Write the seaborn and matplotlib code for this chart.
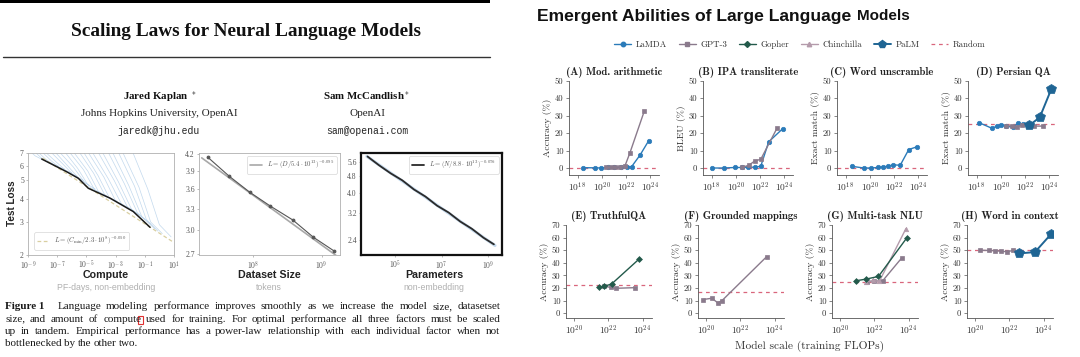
import numpy as np
import pandas as pd
import matplotlib
matplotlib.use("Agg")
import matplotlib.pyplot as plt
import seaborn as sns
from matplotlib.ticker import FixedLocator, FuncFormatter, NullLocator
from matplotlib.lines import Line2D
from matplotlib.patches import Rectangle
from matplotlib.font_manager import FontProperties

# ---------------- data: left (Scaling Laws) ----------------
compute_frontier_exp = [-8.06, -6.35, -5.55, -4.87, -3.38, -1.79, -0.64]
compute_frontier_loss = [6.5, 5.56, 5.13, 4.54, 4.02, 3.41, 2.81]
compute_fit_exp = [-8.0, 1.0]
compute_fit_loss = [6.57, 2.33]
curve_exp = [
    [-9.0, -8.5, -8.0, -7.3], [-8.7, -8.1, -7.6, -6.9], [-8.5, -7.8, -7.2, -6.5],
    [-8.2, -7.4, -6.7, -6.0], [-8.0, -7.0, -6.3, -5.6], [-7.6, -6.6, -5.9, -5.2],
    [-7.3, -6.3, -5.5, -4.8], [-7.0, -5.9, -5.1, -4.4], [-6.6, -5.6, -4.8, -4.0],
    [-6.3, -5.2, -4.4, -3.6], [-6.0, -4.9, -4.1, -3.3], [-5.6, -4.5, -3.7, -2.9],
    [-5.3, -4.2, -3.4, -2.6], [-5.0, -3.8, -3.0, -2.2], [-4.7, -3.5, -2.6, -1.8],
    [-4.3, -3.1, -2.2, -1.4], [-4.0, -2.8, -1.9, -1.0], [-3.6, -2.4, -1.5, -0.6],
    [-3.3, -2.1, -1.2, -0.3], [-2.9, -1.7, -0.9, -0.1], [-2.6, -1.4, -0.6, 0.2],
    [-1.9, -0.8, 0.0, 0.8],
]
curve_loss = [
    [7.3, 6.75, 6.45, 6.15], [7.3, 6.6, 6.2, 5.95], [7.3, 6.5, 6.0, 5.75],
    [7.3, 6.35, 5.75, 5.5], [7.3, 6.2, 5.55, 5.25], [7.3, 6.1, 5.35, 5.0],
    [7.3, 6.0, 5.1, 4.7], [7.3, 5.9, 4.85, 4.5], [7.3, 5.8, 4.6, 4.3],
    [7.3, 5.7, 4.4, 4.15], [7.3, 5.6, 4.25, 4.0], [7.3, 5.45, 4.12, 3.88],
    [7.3, 5.3, 4.0, 3.75], [7.3, 5.2, 3.88, 3.6], [7.3, 5.1, 3.75, 3.45],
    [7.3, 5.0, 3.62, 3.28], [7.3, 4.9, 3.5, 3.1], [7.3, 4.8, 3.35, 2.92],
    [7.3, 4.7, 3.2, 2.75], [7.3, 4.65, 3.1, 2.68], [7.3, 4.6, 3.0, 2.6],
    [7.3, 4.5, 2.9, 2.5],
]
data_exp = [7.34, 7.65, 7.95, 8.25, 8.58, 8.88, 9.18]
data_loss = [4.14, 3.81, 3.55, 3.34, 3.14, 2.91, 2.74]
data_fit_exp = [7.25, 9.22]
data_fit_loss = [4.13, 2.68]
param_exp = [3.8, 4.3, 4.8, 5.3, 5.8, 6.3, 6.8, 7.3, 7.8, 8.3, 8.8, 9.25]
param_loss = [5.92, 5.38, 4.93, 4.57, 4.14, 3.83, 3.47, 3.22, 2.92, 2.70, 2.45, 2.28]
param_fit_exp = [3.77, 9.3]
param_fit_loss = [5.93, 2.25]

compute_yticks = [2, 3, 4, 5, 6, 7]
compute_xticks = [-9, -7, -5, -3, -1, 1]
data_yticks = [2.7, 3.0, 3.3, 3.6, 3.9, 4.2]
data_xticks = [8, 9]
param_yticks = [2.4, 3.2, 4.0, 4.8, 5.6]
param_xticks = [5, 7, 9]

# ---------------- data: right (Emergent Abilities) ----------------
A_LaMDA_x = [18.45, 19.45, 19.95, 20.5, 21.0, 21.55, 22.1, 22.45, 23.15, 23.85]
A_LaMDA_y = [0.2, 0.1, 0.0, 0.3, 0.3, 0.3, 0.4, 0.8, 7.5, 15.6]
A_GPT3_x = [20.35, 20.75, 21.1, 21.5, 21.9, 22.3, 23.5]
A_GPT3_y = [0.3, 0.4, 0.5, 0.6, 1.2, 8.5, 32.8]
B_LaMDA_x = [18.0, 19.0, 19.9, 20.5, 21.0, 21.6, 22.05, 22.7, 23.85]
B_LaMDA_y = [0.0, 0.0, 0.3, 0.3, 0.4, 0.5, 1.0, 15.0, 22.5]
B_GPT3_x = [20.5, 21.05, 21.55, 22.05, 23.4]
B_GPT3_y = [0.4, 1.5, 4.0, 5.0, 23.0]
C_LaMDA_x = [18.5, 19.5, 20.1, 20.65, 21.05, 21.5, 21.9, 22.5, 23.2, 23.9]
C_LaMDA_y = [1.0, 0.0, 0.0, 0.3, 0.6, 1.0, 1.8, 1.6, 10.6, 12.2]
D_LaMDA_x = [18.2, 19.25, 19.65, 20.05, 20.45, 21.0, 21.4, 21.85]
D_LaMDA_y = [26.0, 22.8, 23.8, 24.8, 24.0, 23.3, 25.6, 25.2]
D_GPT3_x = [20.45, 20.9, 21.3, 21.75, 22.2, 22.7, 23.5]
D_GPT3_y = [24.3, 24.0, 23.5, 24.5, 24.2, 24.0, 24.0]
D_PaLM_x = [22.35, 23.2, 24.15]
D_PaLM_y = [24.5, 29.0, 45.2]
E_Gopher_x = [21.45, 21.75, 22.2, 23.8]
E_Gopher_y = [21.0, 21.3, 23.2, 43.0]
E_GPT3_x = [21.75, 22.15, 22.45, 23.55]
E_GPT3_y = [21.5, 20.5, 19.8, 20.3]
F_GPT3_x = [19.85, 20.35, 20.7, 20.95, 23.55]
F_GPT3_y = [10.9, 11.9, 8.3, 10.1, 45.0]
G_Gopher_x = [20.95, 21.5, 22.25, 23.9]
G_Gopher_y = [25.8, 27.0, 29.2, 59.8]
G_Chinchilla_x = [21.5, 21.95, 22.3, 23.85]
G_Chinchilla_y = [24.8, 26.0, 25.2, 67.2]
G_GPT3_x = [21.6, 22.0, 22.5, 23.6]
G_GPT3_y = [25.0, 25.5, 25.8, 43.8]
H_GPT3_x = [20.3, 20.8, 21.2, 21.5, 21.9, 22.2]
H_GPT3_y = [50.0, 49.8, 49.6, 49.2, 48.8, 49.8]
H_PaLM_x = [22.6, 23.5, 24.45]
H_PaLM_y = [47.5, 48.5, 63.0]

random_levels = {"A": 0, "B": 0, "C": 0, "D": 25, "E": 22.6, "F": 16.8, "G": 25, "H": 50}
panel_titles = ["(A) Mod. arithmetic", "(B) IPA transliterate", "(C) Word unscramble", "(D) Persian QA",
                "(E) TruthfulQA", "(F) Grounded mappings", "(G) Multi-task NLU", "(H) Word in context"]
panel_ylabels = ["Accuracy (%)", "BLEU (%)", "Exact match (%)", "Exact match (%)",
                 "Accuracy (%)", "Accuracy (%)", "Accuracy (%)", "Accuracy (%)"]
row1_yticks = [0, 10, 20, 30, 40, 50]
row2_yticks = [0, 10, 20, 30, 40, 50, 60, 70]
row1_xticks = [18, 20, 22, 24]
row2_xticks = [20, 22, 24]
model_names = ["LaMDA", "GPT-3", "Gopher", "Chinchilla", "PaLM"]

# ---------------- styles ----------------
model_style = {
    "LaMDA": dict(color="#2b7bb9", marker="o", ms=3.2, lw=1.0),
    "GPT-3": dict(color="#8a7a8c", marker="s", ms=2.8, lw=1.0),
    "Gopher": dict(color="#235a4b", marker="D", ms=3.0, lw=1.0),
    "Chinchilla": dict(color="#b49bab", marker="^", ms=3.2, lw=1.0),
    "PaLM": dict(color="#1f6594", marker="p", ms=7.0, lw=1.4),
}
random_color = "#d9667c"

sns.set_theme(style="white")
plt.rcParams['font.family'] = ['Liberation Serif', 'DejaVu Serif']
plt.rcParams['mathtext.fontset'] = 'cm'
plt.rcParams['axes.unicode_minus'] = False

W, H = 1080, 357
fig = plt.figure(figsize=(10.8, 3.57), dpi=100)
fig.patch.set_facecolor('white')


def fx(px):
    return px / W


def fy(py):
    return 1 - py / H


def axes_px(x0, y0, x1, y1):
    return fig.add_axes([fx(x0), fy(y1), (x1 - x0) / W, (y1 - y0) / H])


# ================= LEFT: paper header =================
fig.add_artist(Rectangle((0, fy(3)), fx(490), 3 / H, transform=fig.transFigure,
                         facecolor='black', edgecolor='none'))
fig.add_artist(Line2D([fx(3), fx(490)], [fy(57), fy(57)], color='#333333', lw=1.0))
fig.text(fx(246), fy(36), "Scaling Laws for Neural Language Models", ha='center', va='baseline',
         family='Liberation Serif', weight='bold', size=13.9, color='#111111')
fig.text(fx(160), fy(99), "Jared Kaplan $^*$", ha='center', va='baseline',
         family='Liberation Serif', weight='bold', size=7.8, color='#111')
fig.text(fx(367), fy(99), "Sam McCandlish$^*$", ha='center', va='baseline',
         family='Liberation Serif', weight='bold', size=7.8, color='#111')
fig.text(fx(159), fy(116.5), "Johns Hopkins University, OpenAI", ha='center', va='baseline',
         family='Liberation Serif', size=8, color='#222')
fig.text(fx(367), fy(116.5), "OpenAI", ha='center', va='baseline',
         family='Liberation Serif', size=8, color='#222')
fig.text(fx(159), fy(133.5), "jaredk@jhu.edu", ha='center', va='baseline',
         family='Liberation Mono', size=7, color='#222')
fig.text(fx(367), fy(133.5), "sam@openai.com", ha='center', va='baseline',
         family='Liberation Mono', size=7, color='#222')


def fmt_pow(v, p):
    return r'$10^{%d}$' % int(round(np.log10(v)))


def left_axis(ax, xt, yt, yfmt, frame_color, frame_lw):
    ax.set_xscale('log')
    ax.set_yscale('log')
    ax.xaxis.set_major_locator(FixedLocator([10.0 ** e for e in xt]))
    ax.xaxis.set_minor_locator(NullLocator())
    ax.xaxis.set_major_formatter(FuncFormatter(fmt_pow))
    ax.yaxis.set_major_locator(FixedLocator(yt))
    ax.yaxis.set_minor_locator(NullLocator())
    ax.yaxis.set_major_formatter(FuncFormatter(lambda v, p: yfmt % v))
    ax.tick_params(axis='both', labelsize=5.5, labelcolor='#555555', length=1.5, width=0.4,
                   color='#888', pad=1.5, direction='out', bottom=True, left=True)
    for s in ax.spines.values():
        s.set_color(frame_color)
        s.set_linewidth(frame_lw)
        s.set_visible(True)
    ax.set_xlabel('')
    ax.set_ylabel('')
    ax.set_facecolor('white')


# plot 1: compute
ax1 = axes_px(28, 153, 174, 255)
curves_df = pd.DataFrame({
    "compute": [10.0 ** v for c in curve_exp for v in c],
    "loss": [v for c in curve_loss for v in c],
    "curve": [i for i, c in enumerate(curve_exp) for _ in c],
})
sns.lineplot(data=curves_df, x="compute", y="loss", units="curve", estimator=None,
             color="#a9c9e6", alpha=0.7, lw=0.5, ax=ax1, legend=False, sort=False)
sns.lineplot(x=[10.0 ** v for v in compute_fit_exp], y=compute_fit_loss, ax=ax1,
             color="#d9cfa0", lw=0.9, ls=(0, (3, 2)), label=r"$L = (C_{\rm min}/2.3\cdot 10^{8})^{-0.050}$")
sns.lineplot(x=[10.0 ** v for v in compute_frontier_exp], y=compute_frontier_loss, ax=ax1,
             color="#1a1a1a", lw=1.1, legend=False)
ax1.set_xlim(1e-9, 1e1)
ax1.set_ylim(2, 7)
left_axis(ax1, compute_xticks, compute_yticks, "%g", "#b0b0b0", 0.6)
leg = ax1.legend(loc='lower left', fontsize=4.8, frameon=True, handlelength=1.8,
                 borderpad=0.4, labelcolor='#555', bbox_to_anchor=(0.02, 0.02))
leg.get_frame().set_edgecolor('#cccccc')
leg.get_frame().set_linewidth(0.5)

# plot 2: dataset
ax2 = axes_px(199, 153, 340, 255)
sns.lineplot(x=[10.0 ** v for v in data_fit_exp], y=data_fit_loss, ax=ax2, color="#a8a8a8",
             lw=1.2, label=r"$L = (D/5.4\cdot 10^{13})^{-0.095}$")
sns.lineplot(x=[10.0 ** v for v in data_exp], y=data_loss, ax=ax2, color="#555555", lw=0.8,
             marker='o', ms=2, markeredgecolor="#555555", legend=False)
ax2.set_xlim(10 ** 7.21, 10 ** 9.27)
ax2.set_ylim(2.69, 4.22)
left_axis(ax2, data_xticks, data_yticks, "%.1f", "#b0b0b0", 0.6)
leg = ax2.legend(loc='upper right', fontsize=4.8, frameon=True, handlelength=1.8,
                 borderpad=0.4, labelcolor='#555')
leg.get_frame().set_edgecolor('#cccccc')
leg.get_frame().set_linewidth(0.5)

# plot 3: parameters
ax3 = axes_px(361, 153, 502, 255)
sns.lineplot(x=[10.0 ** v for v in param_fit_exp], y=param_fit_loss, ax=ax3, color="#9fc2e2",
             lw=2.2, alpha=0.6, legend=False)
sns.lineplot(x=[10.0 ** v for v in param_exp], y=param_loss, ax=ax3, color="#2a2a2a", lw=1.3,
             label=r"$L = (N/8.8\cdot 10^{13})^{-0.076}$")
ax3.set_xlim(10 ** 3.52, 10 ** 9.6)
ax3.set_ylim(2.03, 6.15)
left_axis(ax3, param_xticks, param_yticks, "%.1f", "#111111", 1.6)
leg = ax3.legend(loc='upper right', fontsize=4.8, frameon=True, handlelength=1.8,
                 borderpad=0.4, labelcolor='#555')
leg.get_frame().set_edgecolor('#cccccc')
leg.get_frame().set_linewidth(0.5)

fig.text(fx(12), fy(203), "Test Loss", rotation=90, ha='center', va='center',
         family='Liberation Sans', weight='bold', size=7.2, color='#222')
for cx, t1, t2 in [(106, "Compute", "PF-days, non-embedding"), (269, "Dataset Size", "tokens"),
                   (434, "Parameters", "non-embedding")]:
    fig.text(fx(cx), fy(278), t1, ha='center', va='baseline', family='Liberation Sans',
             weight='bold', size=7.7, color='#222')
    fig.text(fx(cx), fy(290.5), t2, ha='center', va='baseline', family='Liberation Sans',
             size=6.3, color='#b0b0b0')

# caption (justified)
cap_lines = [
    "Language modeling performance improves smoothly as we increase the model size, datasetset",
    "size, and amount of compute used for training.  For optimal performance all three factors must be scaled",
    "up in tandem.  Empirical performance has a power-law relationship with each individual factor when not",
    "bottlenecked by the other two.",
]
cap_base = [309, 321.5, 334, 346.5]
renderer = fig.canvas.get_renderer()
cap_size = 8.0


def place_line(tokens, ybase, x0, x1, justify, extra_first=0.0):
    widths = []
    for t, b in tokens:
        fp = FontProperties(family='Liberation Serif', size=cap_size, weight='bold' if b else 'normal')
        w, h, d = renderer.get_text_width_height_descent(t, fp, ismath=False)
        widths.append(w)
    n = len(tokens)
    if justify and n > 1:
        gap = (x1 - x0 - sum(widths) - extra_first) / (n - 1)
    else:
        gap = 2.6
    x = x0
    for i, ((t, b), w) in enumerate(zip(tokens, widths)):
        fig.text(fx(x), fy(ybase), t, ha='left', va='baseline', family='Liberation Serif',
                 size=cap_size, weight='bold' if b else 'normal', color='#1a1a1a')
        x += w + gap + (extra_first if i == 0 else 0)


for i, line in enumerate(cap_lines):
    toks = [(w, False) for w in line.split()]
    extra = 0.0
    if i == 0:
        toks = [("Figure 1", True)] + toks
        extra = 8.0
    place_line(toks, cap_base[i], 5, 500, justify=(i < 3), extra_first=extra)
fig.add_artist(Rectangle((fx(137.7), fy(324.3)), 5.6 / W, 8.6 / H, transform=fig.transFigure,
                         facecolor='none', edgecolor='#e03030', lw=0.8))

# ================= RIGHT: Emergent abilities =================
fig.text(fx(537), fy(20.5), "Emergent Abilities of Large Language", ha='left', va='baseline',
         family='Liberation Sans', weight='bold', size=12.6, color='#111')
fig.text(fx(857), fy(20.5), "Models", ha='left', va='baseline',
         family='Liberation Sans', weight='bold', size=11, color='#111')

panel_series = [
    [("LaMDA", A_LaMDA_x, A_LaMDA_y), ("GPT-3", A_GPT3_x, A_GPT3_y)],
    [("LaMDA", B_LaMDA_x, B_LaMDA_y), ("GPT-3", B_GPT3_x, B_GPT3_y)],
    [("LaMDA", C_LaMDA_x, C_LaMDA_y)],
    [("LaMDA", D_LaMDA_x, D_LaMDA_y), ("GPT-3", D_GPT3_x, D_GPT3_y), ("PaLM", D_PaLM_x, D_PaLM_y)],
    [("GPT-3", E_GPT3_x, E_GPT3_y), ("Gopher", E_Gopher_x, E_Gopher_y)],
    [("GPT-3", F_GPT3_x, F_GPT3_y)],
    [("GPT-3", G_GPT3_x, G_GPT3_y), ("Chinchilla", G_Chinchilla_x, G_Chinchilla_y),
     ("Gopher", G_Gopher_x, G_Gopher_y)],
    [("GPT-3", H_GPT3_x, H_GPT3_y), ("PaLM", H_PaLM_x, H_PaLM_y)],
]
row1_left = [569, 703, 837, 968]
row2_left = [566, 698, 832, 967]

for k in range(8):
    key = "ABCDEFGH"[k]
    if k < 4:
        x0 = row1_left[k]
        ax = axes_px(x0, 80.7, x0 + 90, 175)
        ylim = (-4, 50)
        yt = row1_yticks
        xl = (17.3, 24.7)
        xt = row1_xticks
    else:
        x0 = row2_left[k - 4]
        ax = axes_px(x0, 225, x0 + 86, 318.3)
        ylim = (-4, 70)
        yt = row2_yticks
        xl = (19.55, 24.55)
        xt = row2_xticks
    ax.set_facecolor('none')
    ax.set_xscale('log')
    ax.axhline(random_levels[key], color=random_color, lw=0.9, ls=(0, (3, 3)), zorder=1)
    for name, xs, ys in panel_series[k]:
        st = model_style[name]
        sns.lineplot(x=[10.0 ** v for v in xs], y=ys, ax=ax, color=st["color"], lw=st["lw"],
                     marker=st["marker"], markersize=st["ms"], markeredgecolor=st["color"],
                     markeredgewidth=0.5, legend=False, zorder=3)
    ax.set_xlim(10 ** xl[0], 10 ** xl[1])
    ax.set_ylim(*ylim)
    ax.xaxis.set_major_locator(FixedLocator([10.0 ** e for e in xt]))
    ax.xaxis.set_minor_locator(NullLocator())
    ax.xaxis.set_major_formatter(FuncFormatter(fmt_pow))
    ax.yaxis.set_major_locator(FixedLocator(yt))
    ax.yaxis.set_major_formatter(FuncFormatter(lambda v, p: "%d" % v))
    sns.despine(ax=ax)
    for s in ["left", "bottom"]:
        ax.spines[s].set_color("#555555")
        ax.spines[s].set_linewidth(0.6)
    ax.tick_params(axis='both', labelsize=6.2, labelcolor='#333', length=2, width=0.5,
                   color='#555', pad=2, direction='out', bottom=True, left=True,
                   labelfontfamily='cmr10')
    ax.tick_params(axis='x', labelsize=6.8)
    ax.set_xlabel('')
    ax.set_ylabel(panel_ylabels[k], family='cmr10', size=7, color='#333', labelpad=2)
    ax.set_title(panel_titles[k], family='cmb10', size=7.7, color='#222', pad=4)

fig.text(fx(810), fy(349), "Model scale (training FLOPs)", ha='center', va='baseline',
         family='cmr10', size=8.2, color='#333')

handles = []
for name in model_names:
    st = model_style[name]
    handles.append(Line2D([], [], color=st["color"], lw=st["lw"], marker=st["marker"],
                          markersize=st["ms"] * (0.8 if name == "PaLM" else 1.0),
                          markeredgecolor=st["color"], label=name))
handles.append(Line2D([], [], color=random_color, lw=0.9, ls=(0, (3, 3)), label="Random"))
lg = fig.legend(handles=handles, loc='center', bbox_to_anchor=(fx(800), fy(45)), ncol=6,
                frameon=False, prop=FontProperties(family='cmr10', size=6.4), handlelength=1.9,
                columnspacing=1.3, handletextpad=0.55)
for t in lg.get_texts():
    t.set_color('#333')

fig.savefig("out.png", dpi=100, facecolor='white')
